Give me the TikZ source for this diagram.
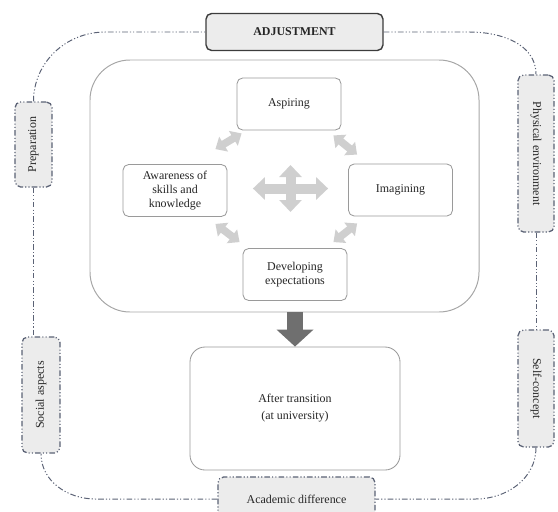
\documentclass[tikz,border=0pt]{standalone}
\usepackage{fontspec}
\setmainfont{Liberation Serif}
\usetikzlibrary{calc}
\usetikzlibrary{arrows.meta}

\definecolor{textdark}{HTML}{262626}
\definecolor{boxgray}{HTML}{9A9A9A}
\definecolor{framegray}{HTML}{A6A6A6}
\definecolor{adjustedge}{HTML}{3C3C3C}
\definecolor{panelfill}{HTML}{ECECEC}
\definecolor{factoredge}{HTML}{5B6275}
\definecolor{softarrow}{HTML}{CFCFCF}
\definecolor{darkarrow}{HTML}{6F6F6F}

\begin{document}
\begin{tikzpicture}[
  font=\fontsize{8.5}{10}\selectfont, text=textdark,
  innerframe/.style={draw=framegray, line width=0.7pt, rounded corners=1cm, minimum width=9.725cm, minimum height=6.3cm},
  stage/.style={draw=boxgray, fill=white, line width=0.6pt, rounded corners=4pt, minimum width=2.6cm, minimum height=1.3cm, align=center},
  headbox/.style={draw=adjustedge, fill=panelfill, line width=1pt, rounded corners=4pt, font=\fontsize{8.5}{10}\selectfont\bfseries},
  factor/.style={draw=factoredge, fill=panelfill, line width=0.9pt, rounded corners=4pt, dash pattern=on 4pt off 1.5pt on 0.8pt off 1.5pt on 0.8pt off 1.5pt},
  loopline/.style={draw=factoredge, line width=0.7pt, dash pattern=on 4pt off 1.5pt on 0.8pt off 1.5pt on 0.8pt off 1.5pt},
  duoarrow/.style={color=softarrow, line width=0.19cm, {Triangle[width=0.42cm,length=0.24cm]}-{Triangle[width=0.42cm,length=0.24cm]}},
  hubarrow/.style={color=softarrow, line width=0.25cm, {Triangle[width=0.55cm,length=0.3cm]}-{Triangle[width=0.55cm,length=0.3cm]}},
  bigdown/.style={color=darkarrow, line width=0.4cm, -{Triangle[width=0.9cm,length=0.425cm]}}
]
  \useasboundingbox (0,0) rectangle (13.95,12.775);

  \node[innerframe] (frame) at (7.1125,8.125) {};

  \node[stage] (aspiring) at (7.225,10.175) {Aspiring};
  \node[stage] (awareness) at (4.375,8.0125) {Awareness of\\skills and\\knowledge};
  \node[stage] (imagining) at (10.0125,8.025) {Imagining};
  \node[stage] (developing) at (7.375,5.9125) {Developing\\expectations};

  \coordinate (hub) at (7.2625,8.0625);
  \draw[hubarrow] ($(hub)+(-0.94,0)$) -- ($(hub)+(0.94,0)$);
  \draw[hubarrow] ($(hub)+(0,-0.5875)$) -- ($(hub)+(0,0.5875)$);

  \draw[duoarrow] ($(awareness.north east)+(-0.3,0.375)$) -- ($(aspiring.south west)+(0.125,-0.075)$);
  \draw[duoarrow] ($(aspiring.south east)+(-0.2,-0.125)$) -- ($(imagining.north west)+(0.225,0.225)$);
  \draw[duoarrow] ($(awareness.south east)+(-0.3,-0.175)$) -- ($(developing.north west)+(-0.075,0.15)$);
  \draw[duoarrow] ($(imagining.south west)+(0.225,-0.175)$) -- ($(developing.north east)+(-0.35,0.15)$);

  \node[stage, minimum width=5.25cm, minimum height=3.075cm, rounded corners=0.375cm] (aftertrans) at (7.375,2.5625) {After transition\\[2pt](at university)};

  \draw[bigdown] (frame.south -| aftertrans.north) -- (aftertrans.north);

  \node[headbox, minimum width=4.425cm, minimum height=0.925cm] (adjustbox) at (7.3625,11.975) {ADJUSTMENT};
  \node[factor, minimum width=0.925cm, minimum height=2.125cm] (prepbox) at (0.8375,9.1625) {\rotatebox{90}{Preparation}};
  \node[factor, minimum width=0.9cm, minimum height=3.925cm] (physbox) at (13.4,8.9375) {\rotatebox{-90}{Physical environment}};
  \node[factor, minimum width=0.9cm, minimum height=2.925cm] (selfbox) at (13.4,3.0625) {\rotatebox{-90}{Self-concept}};
  \node[factor, minimum width=0.95cm, minimum height=2.9cm] (socialbox) at (1.025,2.9) {\rotatebox{90}{Social aspects}};
  \node[factor, minimum width=3.925cm, minimum height=1.1cm] (academicbox) at (7.4125,0.3) {Academic difference};

  \draw[loopline] (adjustbox.east) -- ($(adjustbox.east)+(2.15,0)$) to[out=0,in=90] (physbox.north);
  \draw[loopline] (physbox.south) -- (selfbox.north);
  \draw[loopline] (selfbox.south) to[out=-90,in=0] ($(academicbox.east)+(2.5,0)$) -- (academicbox.east);
  \draw[loopline] (academicbox.west) -- ($(academicbox.west)+(-3.05,0)$) to[out=180,in=-90] (socialbox.south);
  \draw[loopline] (prepbox.south) -- (prepbox.south |- socialbox.north);
  \draw[loopline] (prepbox.north) to[out=90,in=180] ($(adjustbox.west)+(-2.5,0)$) -- (adjustbox.west);
\end{tikzpicture}
\end{document}
